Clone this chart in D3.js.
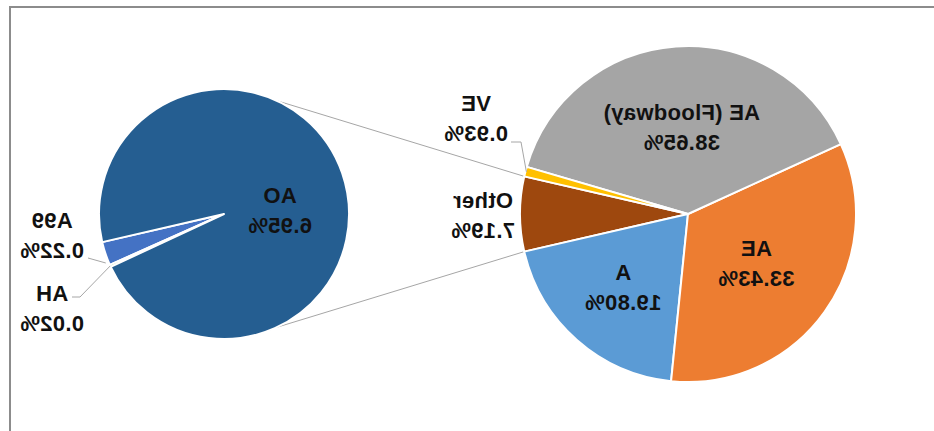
<!DOCTYPE html>
<html>
<head>
<meta charset="utf-8">
<script src="https://cdn.jsdelivr.net/npm/d3@7"></script>
<style>
  html, body { margin: 0; padding: 0; background: #fff; }
  svg { display: block; }
  .lbl { font-family: "Liberation Sans", Arial, sans-serif; font-weight: bold; font-size: 22px; fill: #111; letter-spacing: 0.3px; }
</style>
</head>
<body>
<svg id="chart" width="934" height="431"></svg>
<script>
// Flood zone shares (% of total area)
const mainCategories = ["Other", "A", "AE", "AE (Floodway)", "VE"];
const mainValues = [7.19, 19.80, 33.43, 38.65, 0.93];
const mainColors = ["#9E480E", "#5B9BD5", "#ED7D31", "#A5A5A5", "#FFC000"];

// Breakdown of the "Other" slice
const subCategories = ["A99", "AH", "AO"];
const subValues = [0.22, 0.02, 6.95];
const subColors = ["#4472C4", "#70AD47", "#255E91"];

const W = 934, H = 431;
const svg = d3.select("#chart");
svg.append("rect").attr("width", W).attr("height", H).attr("fill", "#fff");

// whole drawing is laid out mirrored left-to-right
const root = svg.append("g").attr("transform", `translate(${W},0) scale(-1,1)`);

// frame
root.append("path")
  .attr("d", `M0,7 H924 V${H}`)
  .attr("fill", "none").attr("stroke", "#8c8c8c").attr("stroke-width", 2);

const deg = Math.PI / 180;
const main = { cx: 246, cy: 214, r: 168 };
const sub = { cx: 710, cy: 214, r: 125 };

const total = d3.sum(mainValues);
const otherSpan = 2 * Math.PI * mainValues[0] / total;
const mainStart = Math.PI / 2 - otherSpan / 2;

const mainPie = d3.pie().sort(null).value(d => d.v)
  .startAngle(mainStart).endAngle(mainStart + 2 * Math.PI);
const mainArcs = mainPie(mainCategories.map((c, i) => ({ c, v: mainValues[i], col: mainColors[i] })));

const subStart = 103 * deg;
const subPie = d3.pie().sort(null).value(d => d.v)
  .startAngle(subStart).endAngle(subStart + 2 * Math.PI);
const subArcs = subPie(subCategories.map((c, i) => ({ c, v: subValues[i], col: subColors[i] })));

const polar = (p, ang, rad) => [p.cx + rad * Math.sin(ang), p.cy - rad * Math.cos(ang)];

// connector lines between the "Other" slice and the secondary pie
const oth = mainArcs[0];
const conn = [
  [polar(main, oth.startAngle, main.r), polar(sub, -25 * deg, sub.r)],
  [polar(main, oth.endAngle, main.r), polar(sub, 205 * deg, sub.r)]
];
root.selectAll(".conn").data(conn).join("line")
  .attr("x1", d => d[0][0]).attr("y1", d => d[0][1])
  .attr("x2", d => d[1][0]).attr("y2", d => d[1][1])
  .attr("stroke", "#a6a6a6").attr("stroke-width", 1);

const arcMain = d3.arc().innerRadius(0).outerRadius(main.r);
const arcSub = d3.arc().innerRadius(0).outerRadius(sub.r);

root.append("g").attr("transform", `translate(${main.cx},${main.cy})`)
  .selectAll("path").data(mainArcs).join("path")
  .attr("d", arcMain).attr("fill", d => d.data.col)
  .attr("stroke", "#fff").attr("stroke-width", 2).attr("stroke-linejoin", "round");

root.append("g").attr("transform", `translate(${sub.cx},${sub.cy})`)
  .selectAll("path").data(subArcs).join("path")
  .attr("d", arcSub).attr("fill", d => d.data.col)
  .attr("stroke", "#fff").attr("stroke-width", 2).attr("stroke-linejoin", "round");

const mid = a => (a.startAngle + a.endAngle) / 2;
const fmt = v => v.toFixed(2) + "%";

// label anchors: radial distance inside slices, fixed offsets for outside ones
const mainLabelPos = {
  "A": a => polar(main, mid(a), 98),
  "AE": a => polar(main, mid(a), 84),
  "AE (Floodway)": a => polar(main, mid(a), 87),
  "Other": a => [main.cx + main.r + 37, main.cy + 1],
  "VE": a => [main.cx + main.r + 44, 117.5]
};
const subLabelPos = {
  "AO": a => [sub.cx - 56, sub.cy - 4],
  "A99": a => [sub.cx + sub.r + 47, 234.5],
  "AH": a => [sub.cx + sub.r + 47, 308]
};

function drawLabel(pos, name, value) {
  const t = root.append("text").attr("class", "lbl").attr("text-anchor", "middle");
  t.append("tspan").attr("x", pos[0]).attr("y", pos[1] - 15 + 8).text(name);
  t.append("tspan").attr("x", pos[0]).attr("y", pos[1] + 15 + 8).text(fmt(value));
}

mainArcs.forEach(a => drawLabel(mainLabelPos[a.data.c](a), a.data.c, a.data.v));
subArcs.forEach(a => drawLabel(subLabelPos[a.data.c](a), a.data.c, a.data.v));

// leader lines for the small outside labels
const leader = (pts) => root.append("path")
  .attr("d", d3.line()(pts)).attr("fill", "none")
  .attr("stroke", "#a6a6a6").attr("stroke-width", 1);

const ve = mainArcs[4];
leader([[423, 142], [413, 142], polar(main, mid(ve), main.r - 1)]);
const a99 = subArcs[0];
leader([[846, 258], polar(sub, mid(a99) + 4 * deg, sub.r + 3)]);
const ah = subArcs[1];
leader([[862, 297], [854, 297], polar(sub, mid(ah), sub.r)]);
</script>
</body>
</html>
